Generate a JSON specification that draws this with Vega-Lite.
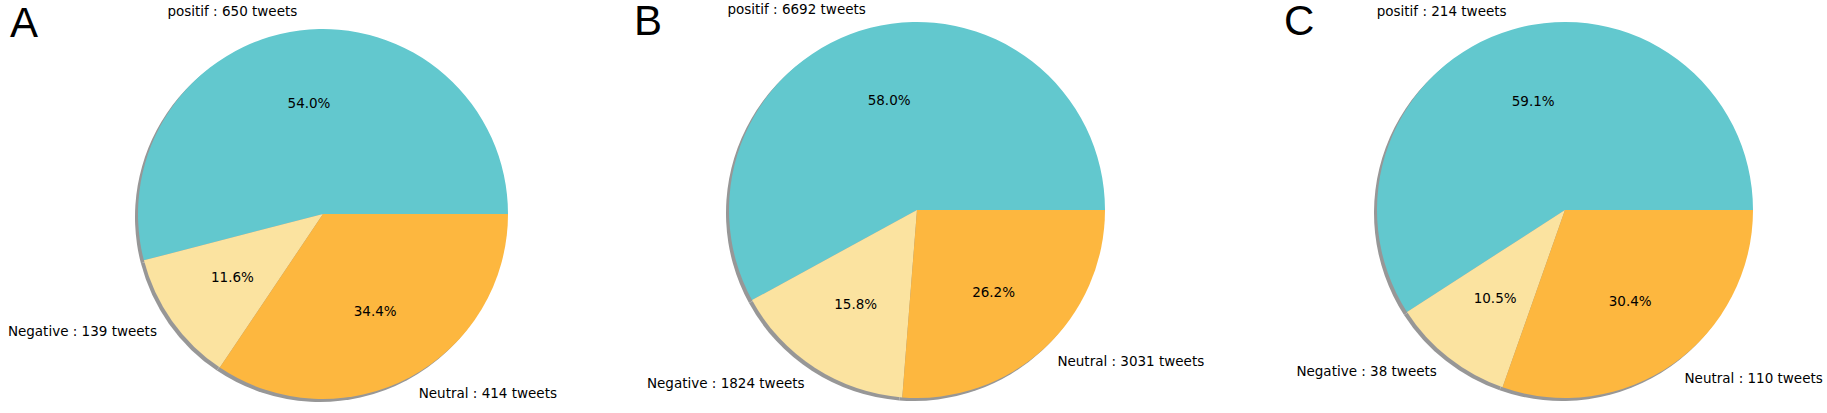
{
  "$schema": "https://vega.github.io/schema/vega-lite/v6.json",
  "padding": {"left": 7, "top": 0, "right": 0, "bottom": 0},
  "background": "white",
  "data": {"values": [
    {"panel": "A", "sentiment": "positif", "count": 650},
    {"panel": "A", "sentiment": "Negative", "count": 139},
    {"panel": "A", "sentiment": "Neutral", "count": 414},
    {"panel": "B", "sentiment": "positif", "count": 6692},
    {"panel": "B", "sentiment": "Negative", "count": 1824},
    {"panel": "B", "sentiment": "Neutral", "count": 3031},
    {"panel": "C", "sentiment": "positif", "count": 214},
    {"panel": "C", "sentiment": "Negative", "count": 38},
    {"panel": "C", "sentiment": "Neutral", "count": 110}
  ]},
  "transform": [
    {"joinaggregate": [{"op": "sum", "field": "count", "as": "total"}], "groupby": ["panel"]},
    {"calculate": "format(datum.count / datum.total, '.1%')", "as": "pct"},
    {"calculate": "datum.sentiment + ' : ' + datum.count + ' tweets'", "as": "label"},
    {"calculate": "datum.sentiment == 'Neutral' ? '' : datum.label", "as": "lblR"},
    {"calculate": "datum.sentiment == 'Neutral' ? datum.label : ''", "as": "lblL"},
    {"calculate": "indexof(['Neutral', 'Negative', 'positif'], datum.sentiment)", "as": "k"}
  ],
  "spacing": 0,
  "bounds": "flush",
  "hconcat": [
    {
      "width": 400, "height": 400,
      "title": {"text": "A", "anchor": "start", "frame": "group", "orient": "top", "offset": 0, "dx": -113, "dy": 74, "baseline": "alphabetic", "fontSize": 42, "font": "Liberation Sans", "fontWeight": "normal", "color": "black"},
      "transform": [{"filter": "datum.panel == 'A'"}],
      "encoding": {
        "theta": {"field": "count", "type": "quantitative", "stack": "normalize", "scale": {"range": [1.5708, 7.854]}},
        "order": {"field": "k", "type": "quantitative"}
      },
      "layer": [
        {"mark": {"type": "arc", "outerRadius": 185, "color": "#979797", "xOffset": -3, "yOffset": 3}},
        {"mark": {"type": "arc", "outerRadius": 185},
         "encoding": {"color": {"field": "sentiment", "type": "nominal", "legend": null, "scale": {"domain": ["positif", "Negative", "Neutral"], "range": ["#62C8CE", "#FBE3A0", "#FDB73F"]}}}},
        {"mark": {"type": "text", "radius": 111, "font": "DejaVu Sans", "fontSize": 13.5, "color": "black", "align": "center", "baseline": "middle"},
         "encoding": {"text": {"field": "pct"}}},
        {"mark": {"type": "text", "radius": 203.5, "font": "DejaVu Sans", "fontSize": 13.5, "color": "black", "align": "right", "baseline": "middle"},
         "encoding": {"text": {"field": "lblR"}}},
        {"mark": {"type": "text", "radius": 203.5, "font": "DejaVu Sans", "fontSize": 13.5, "color": "black", "align": "left", "baseline": "middle"},
         "encoding": {"text": {"field": "lblL"}}}
      ]
    },
    {
      "width": 788, "height": 392,
      "title": {"text": "B", "anchor": "start", "frame": "group", "orient": "top", "offset": 0, "dx": 111, "dy": 74, "baseline": "alphabetic", "fontSize": 42, "font": "Liberation Sans", "fontWeight": "normal", "color": "black"},
      "transform": [{"filter": "datum.panel == 'B'"}],
      "encoding": {
        "theta": {"field": "count", "type": "quantitative", "stack": "normalize", "scale": {"range": [1.5708, 7.854]}},
        "order": {"field": "k", "type": "quantitative"}
      },
      "layer": [
        {"mark": {"type": "arc", "outerRadius": 188, "color": "#979797", "xOffset": -3, "yOffset": 3}},
        {"mark": {"type": "arc", "outerRadius": 188},
         "encoding": {"color": {"field": "sentiment", "type": "nominal", "legend": null, "scale": {"domain": ["positif", "Negative", "Neutral"], "range": ["#62C8CE", "#FBE3A0", "#FDB73F"]}}}},
        {"mark": {"type": "text", "radius": 112.8, "font": "DejaVu Sans", "fontSize": 13.5, "color": "black", "align": "center", "baseline": "middle"},
         "encoding": {"text": {"field": "pct"}}},
        {"mark": {"type": "text", "radius": 206.8, "font": "DejaVu Sans", "fontSize": 13.5, "color": "black", "align": "right", "baseline": "middle"},
         "encoding": {"text": {"field": "lblR"}}},
        {"mark": {"type": "text", "radius": 206.8, "font": "DejaVu Sans", "fontSize": 13.5, "color": "black", "align": "left", "baseline": "middle"},
         "encoding": {"text": {"field": "lblL"}}}
      ]
    },
    {
      "width": 508, "height": 392,
      "title": {"text": "C", "anchor": "start", "frame": "group", "orient": "top", "offset": 0, "dx": -27, "dy": 72, "baseline": "alphabetic", "fontSize": 42, "font": "Liberation Sans", "fontWeight": "normal", "color": "black"},
      "transform": [{"filter": "datum.panel == 'C'"}],
      "encoding": {
        "theta": {"field": "count", "type": "quantitative", "stack": "normalize", "scale": {"range": [1.5708, 7.854]}},
        "order": {"field": "k", "type": "quantitative"}
      },
      "layer": [
        {"mark": {"type": "arc", "outerRadius": 188, "color": "#979797", "xOffset": -3, "yOffset": 3}},
        {"mark": {"type": "arc", "outerRadius": 188},
         "encoding": {"color": {"field": "sentiment", "type": "nominal", "legend": null, "scale": {"domain": ["positif", "Negative", "Neutral"], "range": ["#62C8CE", "#FBE3A0", "#FDB73F"]}}}},
        {"mark": {"type": "text", "radius": 112.8, "font": "DejaVu Sans", "fontSize": 13.5, "color": "black", "align": "center", "baseline": "middle"},
         "encoding": {"text": {"field": "pct"}}},
        {"mark": {"type": "text", "radius": 206.8, "font": "DejaVu Sans", "fontSize": 13.5, "color": "black", "align": "right", "baseline": "middle"},
         "encoding": {"text": {"field": "lblR"}}},
        {"mark": {"type": "text", "radius": 206.8, "font": "DejaVu Sans", "fontSize": 13.5, "color": "black", "align": "left", "baseline": "middle"},
         "encoding": {"text": {"field": "lblL"}}}
      ]
    }
  ],
  "resolve": {"scale": {"color": "independent", "theta": "independent"}},
  "config": {"view": {"stroke": null}}
}
